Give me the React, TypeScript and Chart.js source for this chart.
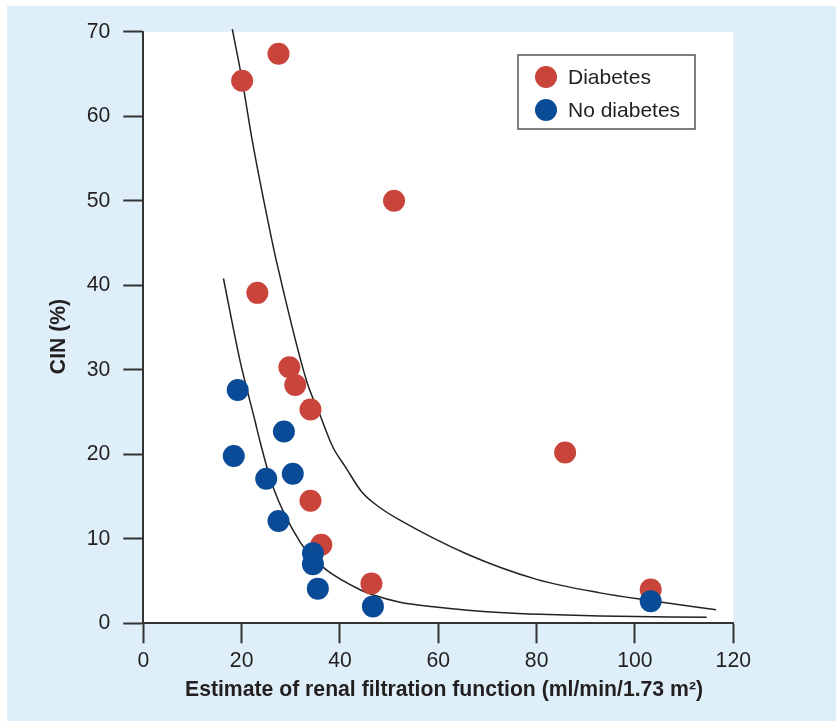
import React, { useEffect, useRef } from "react";
import { Chart, registerables } from "chart.js";

Chart.register(...registerables);

// Scatter data (eGFR, CIN %)
const diabetesX = [20.1, 27.5, 51.0, 23.2, 29.7, 30.9, 34.0, 85.8, 34.0, 36.2, 46.4, 103.2];
const diabetesY = [64.2, 67.4, 50.0, 39.1, 30.3, 28.2, 25.3, 20.2, 14.5, 9.3, 4.7, 4.0];
const noDiabetesX = [19.2, 18.4, 28.6, 25.0, 30.4, 27.5, 34.5, 34.5, 35.5, 46.7, 103.2];
const noDiabetesY = [27.6, 19.8, 22.7, 17.1, 17.7, 12.1, 8.3, 7.0, 4.1, 2.0, 2.6];

// Fitted curves
const diabetesFitX = [18.1, 20.1, 22.2, 26.2, 27.1, 33.2, 35.9, 38.6, 41.0, 44.5, 48.1, 52.2, 65.8, 80.0, 92.9, 103.0, 116.5];
const diabetesFitY = [70.3, 64.3, 57.0, 45.2, 42.8, 28.7, 24.7, 20.8, 18.6, 15.5, 13.7, 12.2, 8.2, 5.2, 3.6, 2.7, 1.6];
const noDiabetesFitX = [16.3, 19.7, 22.7, 23.7, 26.4, 31.9, 34.5, 37.3, 44.0, 46.5, 52.2, 59.0, 66.0, 72.5, 80.7, 92.9, 114.6];
const noDiabetesFitY = [40.8, 31.0, 24.0, 21.6, 16.1, 9.6, 7.8, 6.3, 4.0, 3.4, 2.5, 1.96, 1.55, 1.28, 1.06, 0.86, 0.71];

const seriesLabels = ["Diabetes", "No diabetes"];
const xTitle = "Estimate of renal filtration function (ml/min/1.73 m\u00B2)";
const yTitle = "CIN (%)";

const RED = "#c9443a";
const BLUE = "#0a4b97";
const BG = "#deeff9";
const AXIS = "#333333";
const TEXT = "#231f20";
const FONT = "'Liberation Sans', Arial, Helvetica, sans-serif";

const toPts = (xs: number[], ys: number[]) => xs.map((x, i) => ({ x, y: ys[i] }));

const W = 829;
const H = 715;

export default function App() {
  const ref = useRef<HTMLCanvasElement | null>(null);

  useEffect(() => {
    if (!ref.current) return;

    const decorPlugin = {
      id: "decor",
      beforeDraw(chart: any) {
        const { ctx, chartArea } = chart;
        ctx.save();
        ctx.fillStyle = "#ffffff";
        ctx.fillRect(chartArea.left, chartArea.top, chartArea.right - chartArea.left, chartArea.bottom - chartArea.top);
        ctx.restore();
      },
      afterDraw(chart: any) {
        const { ctx } = chart;
        ctx.save();
        // x title
        ctx.fillStyle = TEXT;
        ctx.font = `bold 21.2px ${FONT}`;
        ctx.textAlign = "center";
        ctx.textBaseline = "alphabetic";
        ctx.fillText(xTitle, 437, 689.7);
        // y title
        ctx.save();
        ctx.translate(58, 330.5);
        ctx.rotate(-Math.PI / 2);
        ctx.fillText(yTitle, 0, 0);
        ctx.restore();
        // legend
        const bx = 511, by = 49, bw = 177, bh = 74;
        ctx.fillStyle = "#ffffff";
        ctx.fillRect(bx, by, bw, bh);
        ctx.strokeStyle = "#555555";
        ctx.lineWidth = 1.5;
        ctx.strokeRect(bx, by, bw, bh);
        const items = [
          { label: seriesLabels[0], color: RED, y: 71 },
          { label: seriesLabels[1], color: BLUE, y: 104 },
        ];
        ctx.font = `21px ${FONT}`;
        ctx.textAlign = "left";
        ctx.textBaseline = "middle";
        for (const it of items) {
          ctx.fillStyle = it.color;
          ctx.beginPath();
          ctx.arc(539, it.y, 11, 0, Math.PI * 2);
          ctx.fill();
          ctx.fillStyle = TEXT;
          ctx.fillText(it.label, 561, it.y + 1);
        }
        ctx.restore();
      },
    };

    const chart = new Chart(ref.current, {
      type: "scatter",
      data: {
        datasets: [
          {
            label: seriesLabels[1],
            data: toPts(noDiabetesX, noDiabetesY),
            backgroundColor: BLUE,
            borderWidth: 0,
            pointRadius: 11,
            pointHoverRadius: 11,
            order: 0,
          },
          {
            label: seriesLabels[0],
            data: toPts(diabetesX, diabetesY),
            backgroundColor: RED,
            borderWidth: 0,
            pointRadius: 11,
            pointHoverRadius: 11,
            order: 1,
          },
          {
            label: "Diabetes fit",
            type: "line",
            data: toPts(diabetesFitX, diabetesFitY),
            showLine: true,
            borderColor: "#222222",
            borderWidth: 1.5,
            pointRadius: 0,
            cubicInterpolationMode: "monotone",
            fill: false,
            clip: false,
            order: 2,
          } as any,
          {
            label: "No diabetes fit",
            type: "line",
            data: toPts(noDiabetesFitX, noDiabetesFitY),
            showLine: true,
            borderColor: "#222222",
            borderWidth: 1.5,
            pointRadius: 0,
            cubicInterpolationMode: "monotone",
            fill: false,
            clip: false,
            order: 2,
          } as any,
        ],
      },
      options: {
        responsive: false,
        animation: false,
        events: [],
        layout: { padding: { top: 23.3, right: 102.7, left: 0, bottom: 0 } },
        plugins: {
          legend: { display: false },
          tooltip: { enabled: false },
          title: { display: false },
        },
        scales: {
          x: {
            type: "linear",
            min: 0,
            max: 120,
            ticks: {
              stepSize: 20,
              color: TEXT,
              font: { family: FONT, size: 21.2 },
              padding: 5,
              maxRotation: 0,
            },
            grid: {
              drawOnChartArea: false,
              drawTicks: true,
              tickLength: 20,
              tickColor: AXIS,
              tickWidth: 2,
            },
            border: { display: true, color: AXIS, width: 2 },
            afterFit(scale: any) {
              scale.height = H - 617.3;
            },
          },
          y: {
            type: "linear",
            min: 0,
            max: 70,
            ticks: {
              stepSize: 10,
              color: TEXT,
              font: { family: FONT, size: 21.2 },
              padding: 13,
            },
            grid: {
              drawOnChartArea: false,
              drawTicks: true,
              tickLength: 20,
              tickColor: AXIS,
              tickWidth: 2,
            },
            border: { display: true, color: AXIS, width: 2 },
            afterFit(scale: any) {
              scale.width = 136.3;
            },
          },
        },
      } as any,
      plugins: [decorPlugin],
    });

    return () => chart.destroy();
  }, []);

  return (
    <div style={{ position: "fixed", left: 0, top: 0, width: 836, height: 721, background: "#ffffff" }}>
      <div style={{ position: "absolute", left: 7, top: 6, width: W, height: H, background: BG }}>
        <canvas ref={ref} width={W} height={H} style={{ display: "block", width: W, height: H }} />
      </div>
    </div>
  );
}
